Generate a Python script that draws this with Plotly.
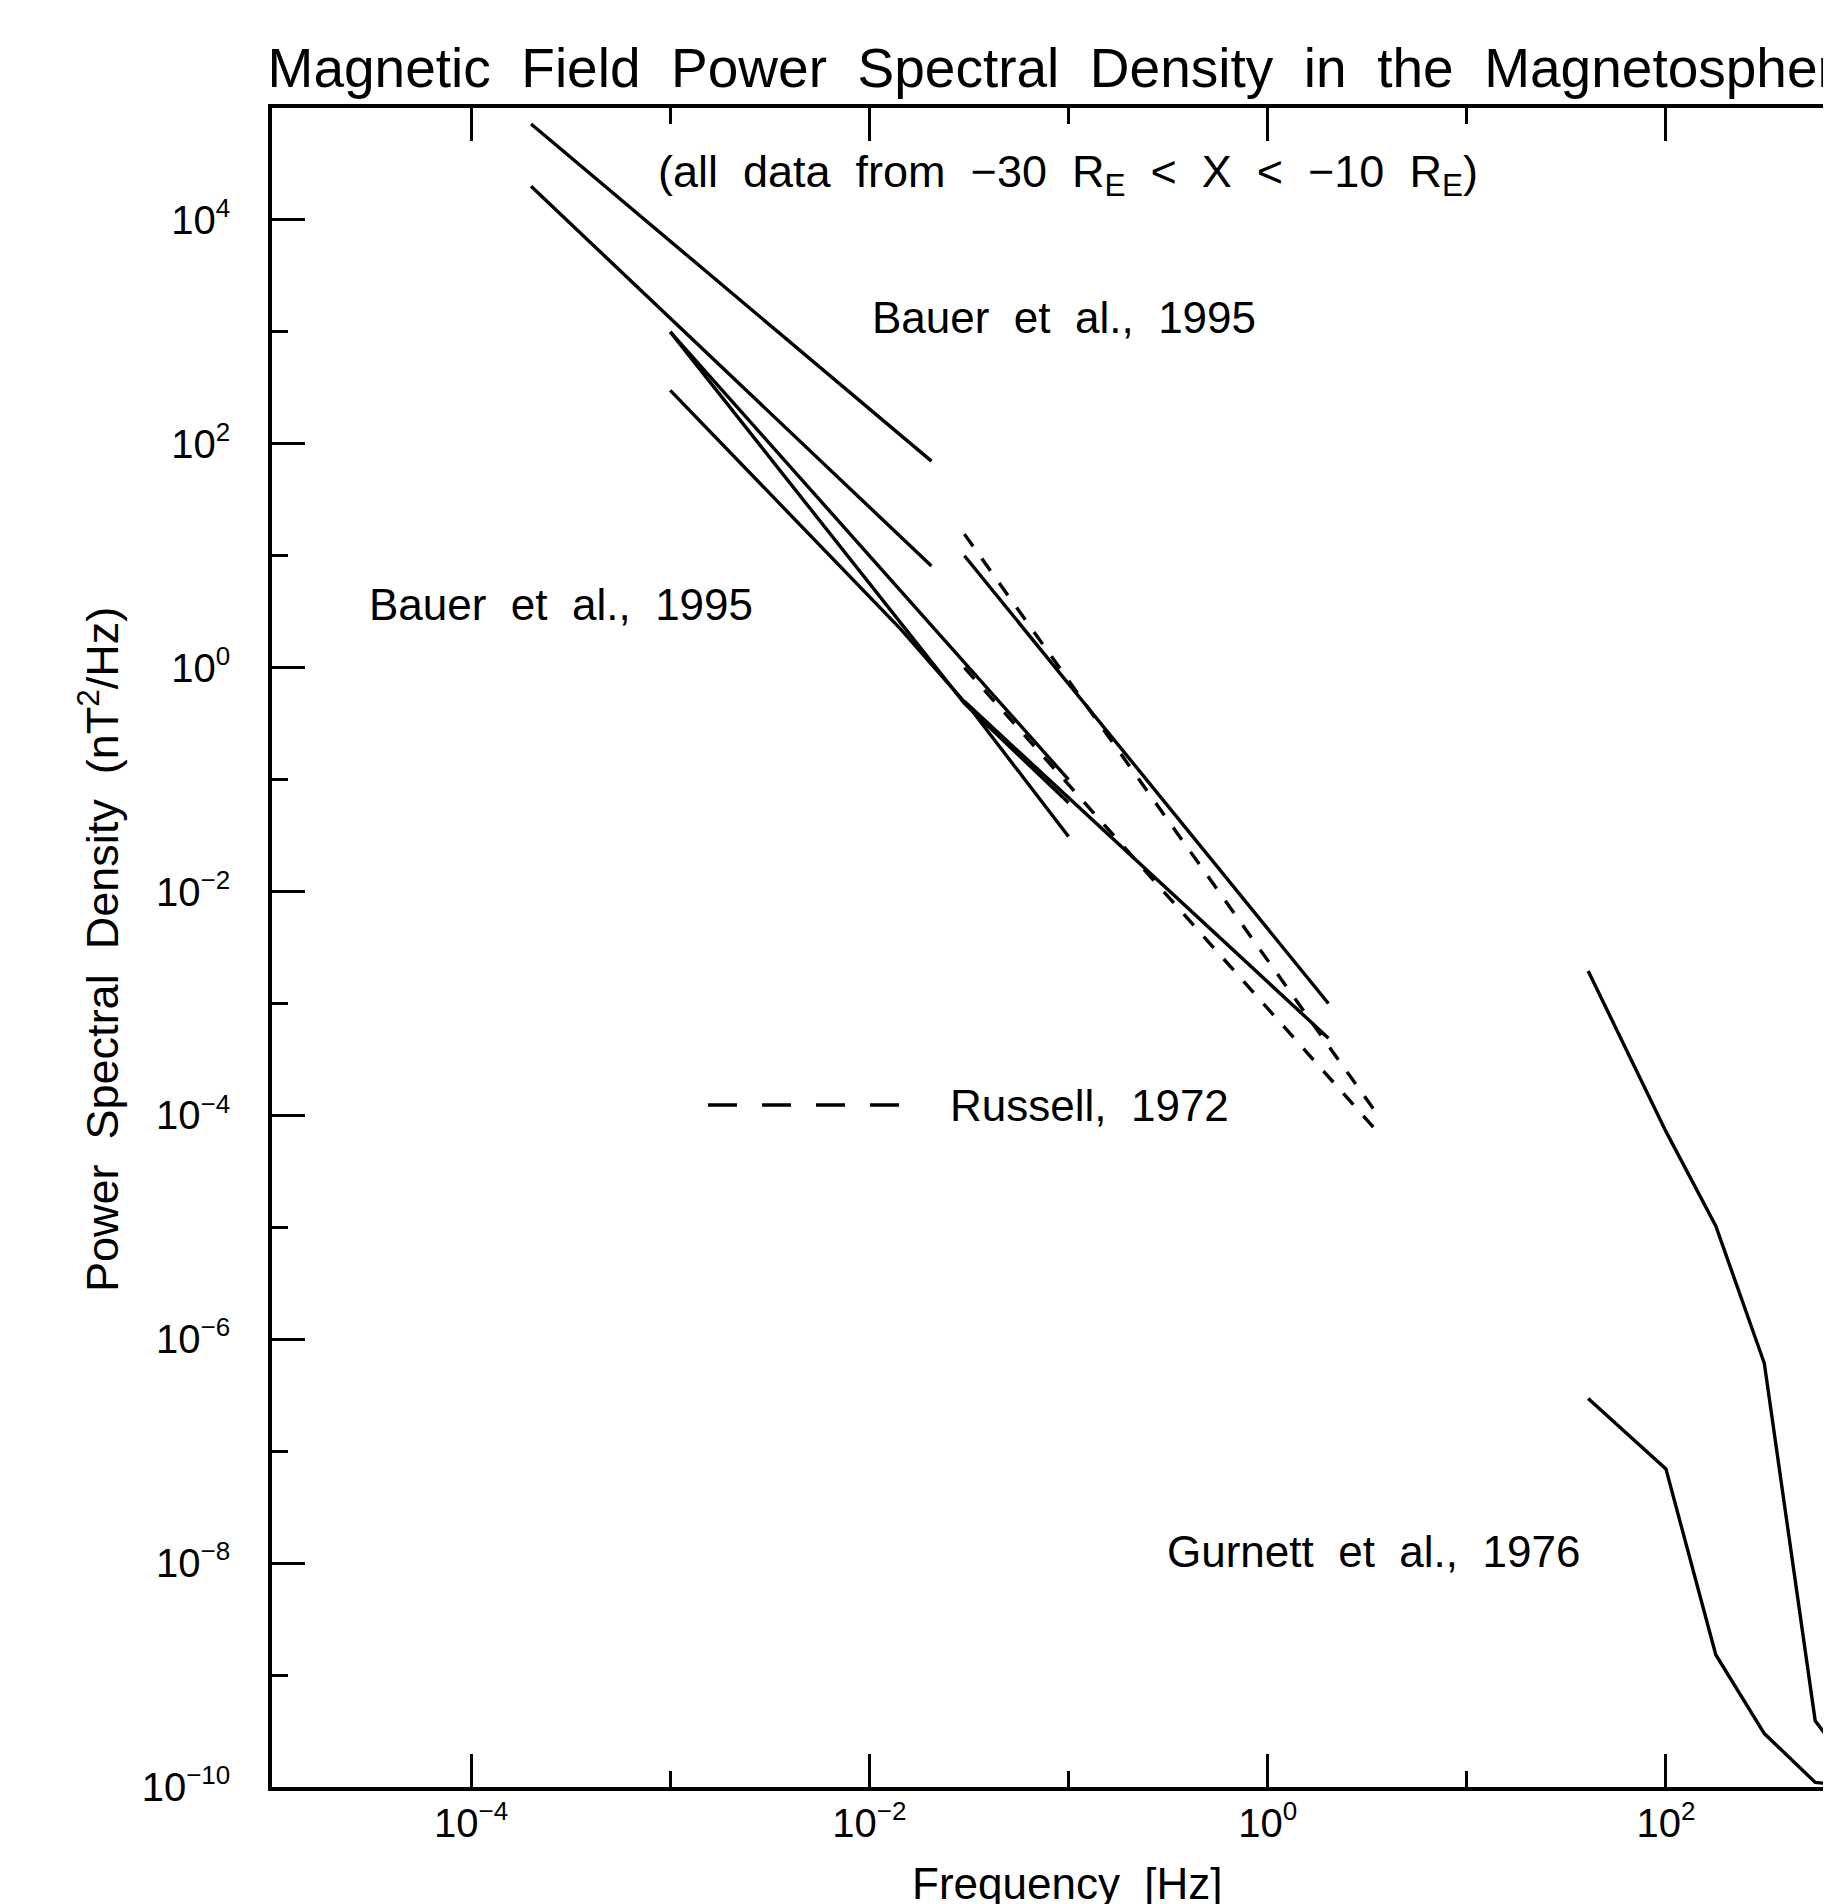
import plotly.graph_objects as go

# ---------------- data (frequency in Hz, PSD in nT^2/Hz) ----------------
bauer1_freq = [2.0e-4, 2.05e-2]
bauer1_psd = [7.2e4, 70.0]

bauer2_freq = [2.0e-4, 2.05e-2]
bauer2_psd = [2.0e4, 8.1]

bauer3_freq = [1.0e-3, 3.0e-2, 1.0e-1]
bauer3_psd = [1.0e3, 0.48, 0.062]

bauer4_freq = [1.0e-3, 1.0e-1]
bauer4_psd = [1.0e3, 0.1]

bauer5_freq = [1.0e-3, 1.44e-2, 3.25e-2, 1.0e-1]
bauer5_psd = [300.0, 2.2, 0.42, 0.031]

bauer6_freq = [3.0e-2, 2.02]
bauer6_psd = [10.0, 1.0e-3]

bauer7_freq = [3.0e-2, 2.02]
bauer7_psd = [0.5, 4.9e-4]

russell1_freq = [3.0e-2, 3.45]
russell1_psd = [15.6, 1.1e-4]

russell2_freq = [3.0e-2, 3.45]
russell2_psd = [1.0, 7.6e-5]

gurnett_freq = [40.7, 100.0, 178.0, 312.0, 562.0, 1000.0]
gurnett_hi_psd = [1.95e-3, 7.2e-5, 1.03e-5, 6.1e-7, 3.9e-10, 1.0e-10]
gurnett_lo_psd = [2.96e-7, 6.95e-8, 1.52e-9, 3.0e-10, 1.1e-10, 1.0e-10]

SUP = '<sup><span style="font-size:26px">{}</span></sup>'
x_tick_vals = [1e-4, 1e-2, 1e0, 1e2]
x_tick_exps = ["\u22124", "\u22122", "0", "2"]
x_tick_text = ["10" + SUP.format(e) for e in x_tick_exps]
x_minor_vals = [1e-3, 1e-1, 1e1]

y_tick_vals = [1e-10, 1e-8, 1e-6, 1e-4, 1e-2, 1e0, 1e2, 1e4]
y_tick_exps = ["\u221210", "\u22128", "\u22126", "\u22124", "\u22122", "0", "2", "4"]
y_tick_text = ["10" + SUP.format(e) for e in y_tick_exps]
y_minor_vals = [1e-9, 1e-7, 1e-5, 1e-3, 1e-1, 1e1, 1e3]

title_text = "Magnetic Field Power Spectral Density in the Magnetosphere"
subtitle_text = "(all data from \u221230 R<sub>E</sub> < X < \u221210 R<sub>E</sub>)"
x_title = "Frequency [Hz]"
y_title = "Power Spectral Density (nT<sup>2</sup>/Hz)"


def wide(s):
    return s.replace(" ", " \u00a0")


FONT = "Liberation Sans"
LW = 3.4
DASH = "15px,15px"

solid_sets = [
    (bauer1_freq, bauer1_psd), (bauer2_freq, bauer2_psd),
    (bauer3_freq, bauer3_psd), (bauer4_freq, bauer4_psd),
    (bauer5_freq, bauer5_psd), (bauer6_freq, bauer6_psd),
    (bauer7_freq, bauer7_psd),
    (gurnett_freq, gurnett_hi_psd), (gurnett_freq, gurnett_lo_psd),
]
dashed_sets = [(russell1_freq, russell1_psd), (russell2_freq, russell2_psd)]

fig = go.Figure()
for fx, py in solid_sets:
    fig.add_trace(go.Scatter(x=fx, y=py, mode="lines",
                             line=dict(color="black", width=LW)))
for fx, py in dashed_sets:
    fig.add_trace(go.Scatter(x=fx, y=py, mode="lines",
                             line=dict(color="black", width=LW, dash=DASH)))

# page layout (page pixels); the html body adds an 8px margin
BODY = 8
PAGE_W, PAGE_H = 1831, 1904
W, H = PAGE_W - BODY, PAGE_H - BODY
PX_L, PX_R, PX_T, PX_B = 272.0, 1831.0, 108.0, 1787.0


def px(x):
    return (x - PX_L) / (PX_R - PX_L)


def py_(y):
    return (PX_B - y) / (PX_B - PX_T)


annots = []
txt_font = dict(family=FONT, size=44, color="black")
annots.append(dict(text=wide(subtitle_text), x=px(1068), y=py_(174),
                   xanchor="center", yanchor="middle", font=dict(size=45)))
annots.append(dict(text=wide("Bauer et al., 1995"), x=px(1064), y=py_(318),
                   xanchor="center", yanchor="middle"))
annots.append(dict(text=wide("Bauer et al., 1995"), x=px(561), y=py_(604),
                   xanchor="center", yanchor="middle"))
annots.append(dict(text=wide("Gurnett et al., 1976"), x=px(1373), y=py_(1551),
                   xanchor="center", yanchor="middle"))
annots.append(dict(text=wide("Russell, 1972"), x=px(948), y=py_(1105),
                   xanchor="left", yanchor="middle"))
annots.append(dict(text=wide(x_title), x=px(1067), y=py_(1884),
                   xanchor="center", yanchor="middle"))
annots.append(dict(text=wide(y_title), x=px(99), y=py_(950), textangle=-90,
                   xanchor="center", yanchor="middle", font=dict(size=45)))
for a in annots:
    f = dict(txt_font)
    f.update(a.get("font", {}))
    a.update(xref="paper", yref="paper", showarrow=False, font=f)

shapes = [dict(type="line", xref="paper", yref="paper",
               x0=px(708), x1=px(901), y0=py_(1105), y1=py_(1105),
               line=dict(color="black", width=LW, dash="29px,25px"))]

axis_common = dict(
    type="log", showline=True, linecolor="black", linewidth=3.5,
    ticks="inside", ticklen=33, tickwidth=2.8, tickcolor="black",
    tickmode="array", showgrid=False, zeroline=False,
    tickfont=dict(family=FONT, size=40, color="black"),
)

fig.update_layout(
    width=W, height=H,
    margin=dict(l=int(PX_L) - BODY, r=0, t=int(PX_T) - BODY, b=PAGE_H - int(PX_B),
                autoexpand=False),
    paper_bgcolor="white", plot_bgcolor="white", showlegend=False,
    font=dict(family=FONT, color="black"),
    title=dict(text=wide(title_text), x=px((PX_L + 1862) / 2), xref="paper",
               xanchor="center", y=1 - (68 - BODY) / H, yref="container",
               yanchor="middle",
               font=dict(family=FONT, size=55, color="black")),
    annotations=annots, shapes=shapes,
)
fig.update_xaxes(range=[-5, -5 + (PX_R - PX_L) / 199.13], mirror="ticks",
                 tickvals=x_tick_vals, ticktext=x_tick_text, ticklabelstandoff=-2,
                 minor=dict(tickmode="array", tickvals=x_minor_vals, ticks="inside",
                            ticklen=16, tickwidth=2.8, tickcolor="black", showgrid=False),
                 **axis_common)
fig.update_yaxes(range=[-10, 5], mirror=False,
                 tickvals=y_tick_vals, ticktext=y_tick_text, ticklabelstandoff=30,
                 minor=dict(tickmode="array", tickvals=y_minor_vals, ticks="inside",
                            ticklen=16, tickwidth=2.8, tickcolor="black", showgrid=False),
                 **axis_common)

fig.write_html("out.html")
